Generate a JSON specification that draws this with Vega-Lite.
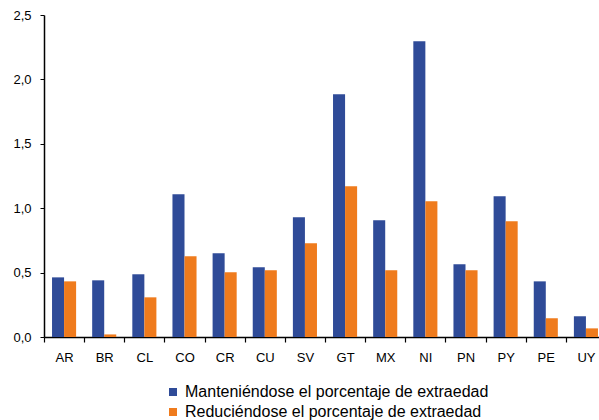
{
  "$schema": "https://vega.github.io/schema/vega-lite/v6.json",
  "autosize": {"type": "none"},
  "padding": {"left": 44, "top": 15, "right": 0, "bottom": 83},
  "width": 562,
  "height": 322,
  "background": "white",
  "config": {
    "font": "Liberation Sans",
    "view": {"stroke": null}
  },
  "data": {
    "values": [
      {"pais": "AR", "serie": "Manteniéndose el porcentaje de extraedad", "valor": 0.463},
      {"pais": "AR", "serie": "Reduciéndose el porcentaje de extraedad", "valor": 0.432},
      {"pais": "BR", "serie": "Manteniéndose el porcentaje de extraedad", "valor": 0.44},
      {"pais": "BR", "serie": "Reduciéndose el porcentaje de extraedad", "valor": 0.02},
      {"pais": "CL", "serie": "Manteniéndose el porcentaje de extraedad", "valor": 0.487},
      {"pais": "CL", "serie": "Reduciéndose el porcentaje de extraedad", "valor": 0.308},
      {"pais": "CO", "serie": "Manteniéndose el porcentaje de extraedad", "valor": 1.108},
      {"pais": "CO", "serie": "Reduciéndose el porcentaje de extraedad", "valor": 0.627},
      {"pais": "CR", "serie": "Manteniéndose el porcentaje de extraedad", "valor": 0.65},
      {"pais": "CR", "serie": "Reduciéndose el porcentaje de extraedad", "valor": 0.502},
      {"pais": "CU", "serie": "Manteniéndose el porcentaje de extraedad", "valor": 0.541},
      {"pais": "CU", "serie": "Reduciéndose el porcentaje de extraedad", "valor": 0.518},
      {"pais": "SV", "serie": "Manteniéndose el porcentaje de extraedad", "valor": 0.929},
      {"pais": "SV", "serie": "Reduciéndose el porcentaje de extraedad", "valor": 0.727},
      {"pais": "GT", "serie": "Manteniéndose el porcentaje de extraedad", "valor": 1.884},
      {"pais": "GT", "serie": "Reduciéndose el porcentaje de extraedad", "valor": 1.17},
      {"pais": "MX", "serie": "Manteniéndose el porcentaje de extraedad", "valor": 0.906},
      {"pais": "MX", "serie": "Reduciéndose el porcentaje de extraedad", "valor": 0.518},
      {"pais": "NI", "serie": "Manteniéndose el porcentaje de extraedad", "valor": 2.296},
      {"pais": "NI", "serie": "Reduciéndose el porcentaje de extraedad", "valor": 1.054},
      {"pais": "PN", "serie": "Manteniéndose el porcentaje de extraedad", "valor": 0.564},
      {"pais": "PN", "serie": "Reduciéndose el porcentaje de extraedad", "valor": 0.518},
      {"pais": "PY", "serie": "Manteniéndose el porcentaje de extraedad", "valor": 1.092},
      {"pais": "PY", "serie": "Reduciéndose el porcentaje de extraedad", "valor": 0.899},
      {"pais": "PE", "serie": "Manteniéndose el porcentaje de extraedad", "valor": 0.432},
      {"pais": "PE", "serie": "Reduciéndose el porcentaje de extraedad", "valor": 0.145},
      {"pais": "UY", "serie": "Manteniéndose el porcentaje de extraedad", "valor": 0.161},
      {"pais": "UY", "serie": "Reduciéndose el porcentaje de extraedad", "valor": 0.067}
    ]
  },
  "mark": {"type": "bar"},
  "encoding": {
    "x": {
      "field": "pais",
      "type": "nominal",
      "sort": null,
      "scale": {"paddingInner": 0, "paddingOuter": 0},
      "axis": {
        "title": null,
        "labelAngle": 0,
        "labelFontSize": 13,
        "labelColor": "#000000",
        "labelPadding": 9,
        "tickBand": "extent",
        "tickSize": 5,
        "tickColor": "#000000",
        "domainColor": "#000000",
        "domainWidth": 1.5,
        "tickWidth": 1.2
      }
    },
    "xOffset": {
      "field": "serie",
      "type": "nominal",
      "scale": {"paddingOuter": 0.667, "paddingInner": 0}
    },
    "y": {
      "field": "valor",
      "type": "quantitative",
      "scale": {"domain": [0, 2.5]},
      "axis": {
        "title": null,
        "values": [0, 0.5, 1, 1.5, 2, 2.5],
        "labelExpr": "replace(format(datum.value, '.1f'), '.', ',')",
        "labelFontSize": 13,
        "labelColor": "#000000",
        "labelPadding": 9,
        "tickSize": 4,
        "tickColor": "#000000",
        "domainColor": "#000000",
        "domainWidth": 1.5,
        "grid": false
      }
    },
    "color": {
      "field": "serie",
      "type": "nominal",
      "scale": {"range": ["#2F4B98", "#EF7B1D"]},
      "legend": {
        "title": null,
        "orient": "none",
        "legendX": 121,
        "legendY": 369,
        "symbolType": "square",
        "symbolSize": 64,
        "symbolStrokeWidth": 0,
        "labelFontSize": 16,
        "labelColor": "#000000",
        "labelOffset": 4,
        "rowPadding": 4,
        "labelLimit": 400
      }
    }
  }
}
